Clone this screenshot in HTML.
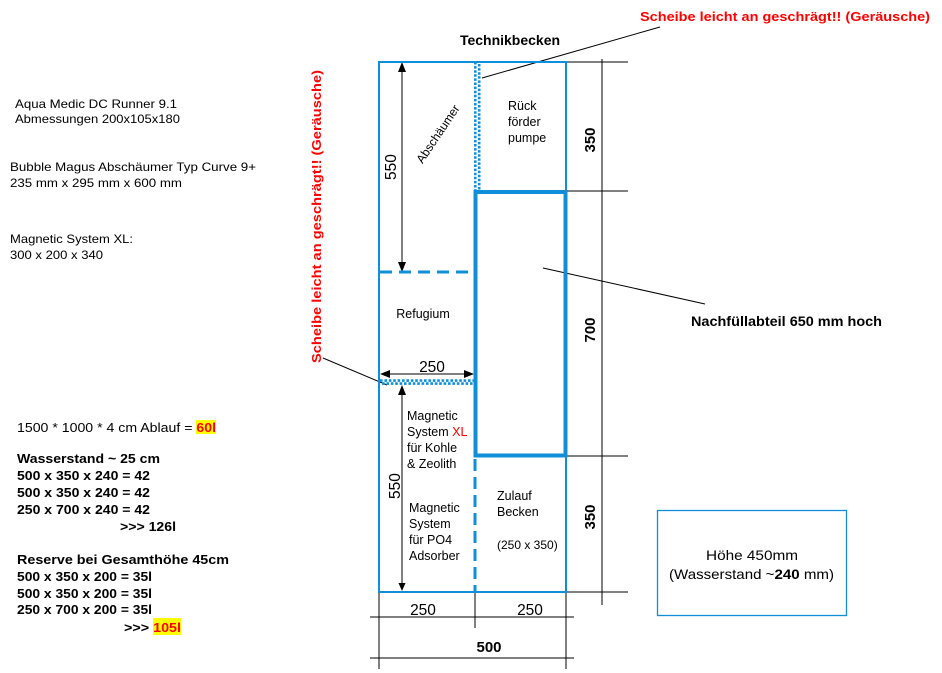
<!DOCTYPE html>
<html><head><meta charset="utf-8"><style>
html,body{margin:0;padding:0;background:#fff;}
svg{display:block;}
text{font-family:"Liberation Sans",Arial,sans-serif;fill:#000;}
.b{font-weight:bold;}
.r{fill:#ff0000;}
</style></head><body>
<svg width="942" height="673" viewBox="0 0 942 673" xmlns="http://www.w3.org/2000/svg">
<!-- dimension lines (black) -->
<g stroke="#000" stroke-width="1" fill="none">
  <line x1="602" y1="59" x2="602" y2="605"/>
  <line x1="566" y1="62" x2="628" y2="62"/>
  <line x1="566" y1="191" x2="628" y2="191"/>
  <line x1="566" y1="456" x2="628" y2="456"/>
  <line x1="566" y1="592" x2="628" y2="592"/>
  <line x1="370" y1="617" x2="574" y2="617"/>
  <line x1="370" y1="658" x2="574" y2="658"/>
  <line x1="379" y1="592" x2="379" y2="669"/>
  <line x1="475" y1="592" x2="475" y2="628"/>
  <line x1="566" y1="592" x2="566" y2="669"/>
  <!-- arrows -->
  <line x1="402" y1="66" x2="402" y2="266"/>
  <line x1="402" y1="389" x2="402" y2="586"/>
  <line x1="384" y1="374" x2="470" y2="374"/>
  <!-- leaders -->
  <line x1="482" y1="78" x2="660" y2="27"/>
  <line x1="323" y1="358" x2="387" y2="385"/>
  <line x1="543" y1="268" x2="705" y2="304"/>
</g>
<g fill="#000">
  <polygon points="402,62 398,72 406,72"/>
  <polygon points="402,272 398,262 406,262"/>
  <polygon points="402,385 398,395 406,395"/>
  <polygon points="402,591 398.5,583 405.5,583"/>
  <polygon points="380,374 390,370 390,378"/>
  <polygon points="474,374 464,370 464,378"/>
</g>
<!-- blue tank -->
<g stroke="#0F8FDA" fill="none">
  <line x1="379" y1="61" x2="379" y2="593" stroke-width="2"/>
  <line x1="378" y1="62" x2="567" y2="62" stroke-width="2"/>
  <line x1="378" y1="592" x2="567" y2="592" stroke-width="2"/>
  <line x1="566" y1="61" x2="566" y2="192" stroke-width="2"/>
  <line x1="566" y1="456" x2="566" y2="593" stroke-width="2"/>
  <rect x="475.5" y="192" width="90" height="263.5" stroke-width="4"/>
  <line x1="380" y1="272" x2="474" y2="272" stroke-width="3" stroke-dasharray="12 7"/>
  <line x1="475" y1="459" x2="475" y2="592" stroke-width="3" stroke-dasharray="12 6"/>
  <line x1="475.3" y1="62" x2="475.3" y2="190" stroke-width="2.6" stroke-dasharray="2.5 1.6"/>
  <line x1="479.2" y1="64" x2="479.2" y2="190" stroke-width="2.6" stroke-dasharray="2.5 1.6"/>
  <line x1="380" y1="380.6" x2="474" y2="380.6" stroke-width="2.6" stroke-dasharray="2.6 1.8"/>
  <line x1="382" y1="383.6" x2="474" y2="383.6" stroke-width="2.6" stroke-dasharray="2.6 1.8"/>
  <rect x="657.5" y="510.5" width="189" height="105" stroke-width="1.3"/>
</g>
<!-- highlights -->
<rect x="196" y="420" width="20" height="14" fill="#ffff00"/>
<rect x="153" y="618" width="28" height="17" fill="#ffff00"/>

<!-- top texts -->
<text x="510" y="45" class="b" font-size="14" text-anchor="middle">Technikbecken</text>
<text x="640" y="21" class="b r" font-size="13" textLength="290" lengthAdjust="spacingAndGlyphs">Scheibe leicht an geschrägt!! (Geräusche)</text>
<text transform="translate(321,363) rotate(-90)" x="0" y="0" class="b r" font-size="13" textLength="293" lengthAdjust="spacingAndGlyphs">Scheibe leicht an geschrägt!! (Geräusche)</text>

<!-- left notes -->
<g font-size="12">
  <text x="15" y="108" textLength="162" lengthAdjust="spacingAndGlyphs">Aqua Medic DC Runner 9.1</text>
  <text x="15" y="123" textLength="165" lengthAdjust="spacingAndGlyphs">Abmessungen 200x105x180</text>
  <text x="10" y="171" textLength="246" lengthAdjust="spacingAndGlyphs">Bubble Magus Abschäumer Typ Curve  9+</text>
  <text x="10" y="187" textLength="172" lengthAdjust="spacingAndGlyphs">235 mm x 295 mm x 600 mm</text>
  <text x="10" y="243" textLength="123" lengthAdjust="spacingAndGlyphs">Magnetic System XL:</text>
  <text x="10" y="259" textLength="93" lengthAdjust="spacingAndGlyphs">300 x 200 x 340</text>
</g>
<g font-size="13">
  <text x="17" y="432" textLength="199" lengthAdjust="spacingAndGlyphs">1500 * 1000 * 4 cm Ablauf = <tspan class="b r">60l</tspan></text>
  <text x="17" y="463" class="b" textLength="143" lengthAdjust="spacingAndGlyphs">Wasserstand ~ 25 cm</text>
  <text x="17" y="480" class="b" textLength="133" lengthAdjust="spacingAndGlyphs">500 x 350 x 240 = 42</text>
  <text x="17" y="497" class="b" textLength="133" lengthAdjust="spacingAndGlyphs">500 x 350 x 240 = 42</text>
  <text x="17" y="514" class="b" textLength="133" lengthAdjust="spacingAndGlyphs">250 x 700 x 240 = 42</text>
  <text x="120" y="531" class="b" textLength="56" lengthAdjust="spacingAndGlyphs">&gt;&gt;&gt; 126l</text>
  <text x="17" y="564" class="b" textLength="212" lengthAdjust="spacingAndGlyphs">Reserve bei  Gesamthöhe 45cm</text>
  <text x="17" y="581" class="b" textLength="135" lengthAdjust="spacingAndGlyphs">500 x 350 x 200 = 35l</text>
  <text x="17" y="598" class="b" textLength="135" lengthAdjust="spacingAndGlyphs">500 x 350 x 200 = 35l</text>
  <text x="17" y="614" class="b" textLength="135" lengthAdjust="spacingAndGlyphs">250 x 700 x 200 = 35l</text>
  <text x="124" y="632" class="b" textLength="57" lengthAdjust="spacingAndGlyphs">&gt;&gt;&gt; <tspan class="r">105l</tspan></text>
</g>

<!-- tank labels -->
<g font-size="12.5">
  <text x="508" y="110">Rück</text>
  <text x="508" y="126">förder</text>
  <text x="508" y="142">pumpe</text>
  <text transform="translate(438,134) rotate(-56)" x="0" y="4" text-anchor="middle" font-size="12">Abschäumer</text>
  <text x="423" y="318" text-anchor="middle">Refugium</text>
  <text x="407" y="420">Magnetic</text>
  <text x="407" y="436">System <tspan class="r">XL</tspan></text>
  <text x="407" y="452">für Kohle</text>
  <text x="407" y="468">&amp; Zeolith</text>
  <text x="409" y="512">Magnetic</text>
  <text x="409" y="528">System</text>
  <text x="409" y="544">für PO4</text>
  <text x="409" y="560">Adsorber</text>
  <text x="497" y="500">Zulauf</text>
  <text x="497" y="516">Becken</text>
  <text x="497" y="549" font-size="12">(250 x 350)</text>
</g>
<g font-size="15.5">
  <text transform="translate(396,167) rotate(-90)" x="0" y="0" text-anchor="middle">550</text>
  <text transform="translate(400,486) rotate(-90)" x="0" y="0" text-anchor="middle">550</text>
  <text x="432" y="372" text-anchor="middle">250</text>
  <text x="423" y="615" text-anchor="middle">250</text>
  <text x="530" y="615" text-anchor="middle">250</text>
</g>
<g font-size="15" class="b">
  <text transform="translate(595,140) rotate(-90)" x="0" y="0" text-anchor="middle" class="b">350</text>
  <text transform="translate(595,330) rotate(-90)" x="0" y="0" text-anchor="middle" class="b">700</text>
  <text transform="translate(595,517) rotate(-90)" x="0" y="0" text-anchor="middle" class="b">350</text>
  <text x="489" y="652" text-anchor="middle" class="b">500</text>
</g>
<text x="691" y="326" class="b" font-size="14" textLength="191" lengthAdjust="spacingAndGlyphs">Nachfüllabteil 650 mm  hoch</text>
<text x="752" y="560" font-size="14" text-anchor="middle" textLength="92" lengthAdjust="spacingAndGlyphs">Höhe 450mm</text>
<text x="669" y="579" font-size="14" textLength="165" lengthAdjust="spacingAndGlyphs">(Wasserstand  ~<tspan class="b">240</tspan> mm)</text>
</svg>
</body></html>
